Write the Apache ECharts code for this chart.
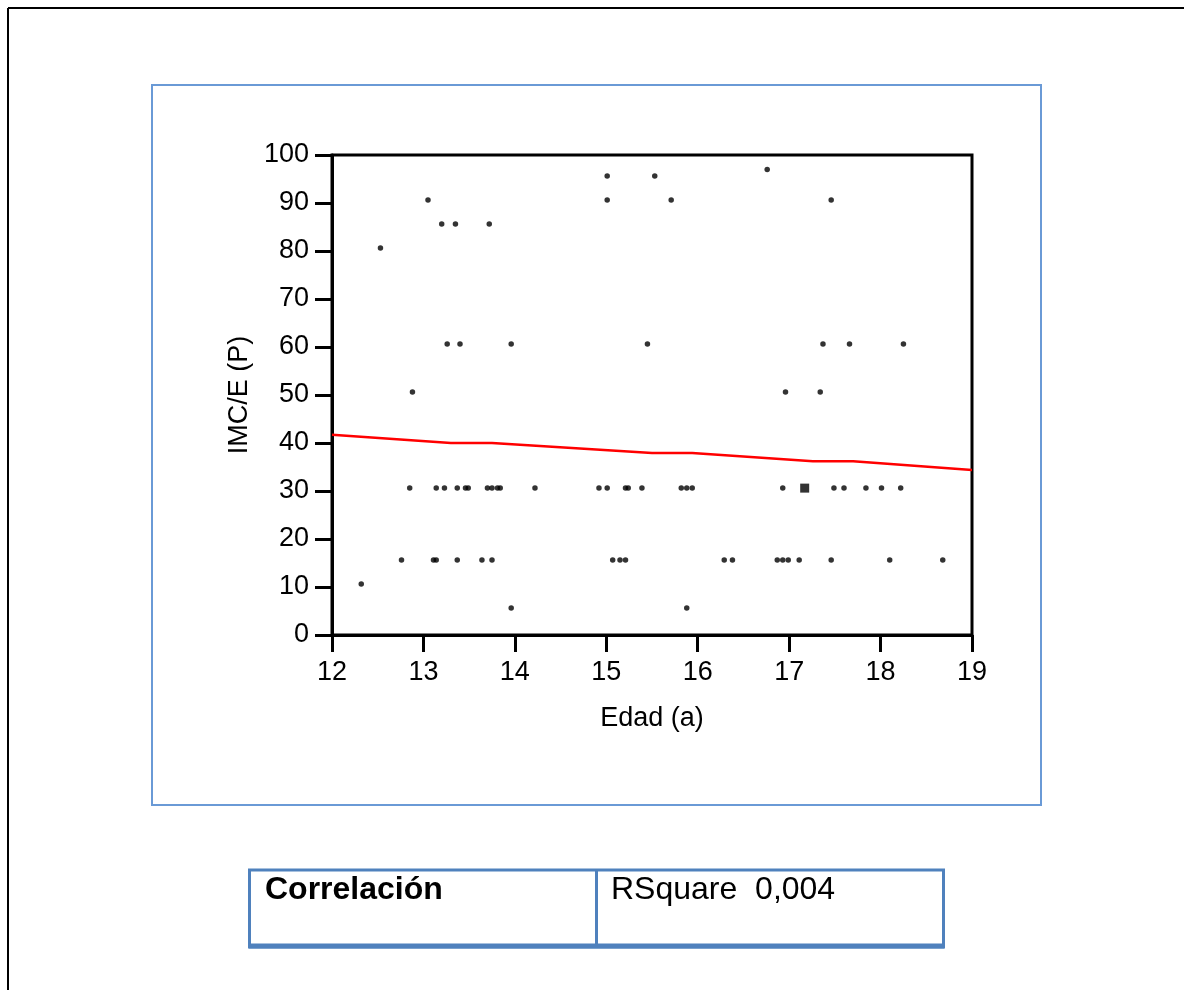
<!DOCTYPE html>
<html>
<head>
<meta charset="utf-8">
<script src="https://cdn.jsdelivr.net/npm/echarts@6/dist/echarts.min.js"></script>
<style>
html,body{margin:0;padding:0;background:#fff;}
#chart{width:1184px;height:990px;}
</style>
</head>
<body>
<div id="chart"></div>
<script>
// Data
const edad = [
  15.01, 15.53,
  16.76,
  13.05, 15.01, 15.71, 17.46,
  13.20, 13.35, 13.72,
  12.53,
  13.26, 13.40, 13.96, 15.45, 17.37, 17.66, 18.25,
  12.88, 16.96, 17.34,
  12.85, 13.14, 13.23, 13.37, 13.46, 13.49, 13.70, 13.75, 13.81, 13.84, 14.22, 14.92, 15.01, 15.21, 15.24, 15.39, 15.82, 15.88, 15.94, 16.93, 17.49, 17.60, 17.84, 18.01, 18.22,
  12.76, 13.11, 13.14, 13.37, 13.64, 13.75, 15.07, 15.15, 15.21, 16.29, 16.38, 16.87, 16.93, 16.99, 17.11, 17.46, 18.10, 18.68,
  12.32,
  13.96, 15.88
];
const imc = [
  95.6, 95.6,
  97,
  90.6, 90.6, 90.6, 90.6,
  85.6, 85.6, 85.6,
  80.6,
  60.6, 60.6, 60.6, 60.6, 60.6, 60.6, 60.6,
  50.6, 50.6, 50.6,
  30.6, 30.6, 30.6, 30.6, 30.6, 30.6, 30.6, 30.6, 30.6, 30.6, 30.6, 30.6, 30.6, 30.6, 30.6, 30.6, 30.6, 30.6, 30.6, 30.6, 30.6, 30.6, 30.6, 30.6, 30.6,
  15.6, 15.6, 15.6, 15.6, 15.6, 15.6, 15.6, 15.6, 15.6, 15.6, 15.6, 15.6, 15.6, 15.6, 15.6, 15.6, 15.6, 15.6,
  10.6,
  5.6, 5.6
];
// overlapping cluster (drawn as a larger square)
const clusterEdad = [17.17];
const clusterImc = [30.6];
// fitted line
const fitX = [12, 13.3, 13.75, 15.5, 15.94, 17.26, 17.7, 19];
const fitY = [41.7, 40.0, 40.0, 37.9, 37.9, 36.2, 36.2, 34.4];

const xTicks = [12, 13, 14, 15, 16, 17, 18, 19];
const yTicks = [0, 10, 20, 30, 40, 50, 60, 70, 80, 90, 100];
const tableLabels = ['Correlación', 'RSquare  0,004'];

const FONT = "'Liberation Sans', Arial, sans-serif";
const chart = echarts.init(document.getElementById('chart'), null, {renderer: 'canvas'});

const points = edad.map((x, i) => [x, imc[i]]);
const cluster = clusterEdad.map((x, i) => [x, clusterImc[i]]);
const fit = fitX.map((x, i) => [x, fitY[i]]);

chart.setOption({
  backgroundColor: '#ffffff',
  animation: false,
  grid: {
    left: 332, top: 155, width: 640, height: 480,
    show: true, borderColor: '#000', borderWidth: 3, backgroundColor: 'transparent'
  },
  xAxis: {
    type: 'value',
    min: xTicks[0], max: xTicks[xTicks.length - 1], interval: 1,
    name: 'Edad (a)', nameLocation: 'middle', nameGap: 70,
    nameTextStyle: {fontFamily: FONT, fontSize: 27, color: '#000'},
    axisLine: {show: true, lineStyle: {color: '#000', width: 3}},
    axisTick: {show: true, inside: false, length: 17, lineStyle: {color: '#000', width: 3}},
    axisLabel: {fontFamily: FONT, fontSize: 27, color: '#000', margin: 24},
    splitLine: {show: false}
  },
  yAxis: {
    type: 'value',
    min: yTicks[0], max: yTicks[yTicks.length - 1], interval: 10,
    name: 'IMC/E (P)', nameLocation: 'middle', nameGap: 76, nameRotate: 90,
    nameTextStyle: {fontFamily: FONT, fontSize: 27, color: '#000'},
    axisLine: {show: true, lineStyle: {color: '#000', width: 3}},
    axisTick: {show: true, inside: false, length: 17, lineStyle: {color: '#000', width: 3}},
    axisLabel: {fontFamily: FONT, fontSize: 27, color: '#000', margin: 23},
    splitLine: {show: false}
  },
  series: [
    {
      type: 'line', data: fit, symbol: 'none', smooth: false,
      lineStyle: {color: '#ff0000', width: 2.5}, z: 3
    },
    {
      type: 'scatter', data: points, symbol: 'circle', symbolSize: 5.5,
      itemStyle: {color: '#000'}, z: 4
    },
    {
      type: 'scatter', data: cluster, symbol: 'rect', symbolSize: 9,
      itemStyle: {color: '#000'}, z: 4
    }
  ],
  graphic: [
    // outer black frame
    {type: 'line', shape: {x1: 8, y1: 8, x2: 1184, y2: 8}, style: {stroke: '#000', lineWidth: 2}},
    {type: 'line', shape: {x1: 8, y1: 8, x2: 8, y2: 990}, style: {stroke: '#000', lineWidth: 2}},
    // blue chart box
    {type: 'rect', shape: {x: 152, y: 85, width: 889, height: 720},
     style: {fill: 'none', stroke: '#6a9ad6', lineWidth: 2}},
    // table
    {type: 'rect', shape: {x: 249.5, y: 870, width: 694, height: 77},
     style: {fill: 'none', stroke: '#4f81bd', lineWidth: 3}},
    {type: 'line', shape: {x1: 249, y1: 946, x2: 944, y2: 946}, style: {stroke: '#4f81bd', lineWidth: 5}},
    {type: 'line', shape: {x1: 596.5, y1: 870, x2: 596.5, y2: 946}, style: {stroke: '#4f81bd', lineWidth: 3}},
    {type: 'text', x: 265, y: 906, style: {text: tableLabels[0], fontFamily: FONT, fontSize: 32, fontWeight: 'bold', fill: '#000', verticalAlign: 'bottom'}},
    {type: 'text', x: 611, y: 906, style: {text: tableLabels[1], fontFamily: FONT, fontSize: 32, fill: '#000', verticalAlign: 'bottom'}}
  ]
});
</script>
</body>
</html>
